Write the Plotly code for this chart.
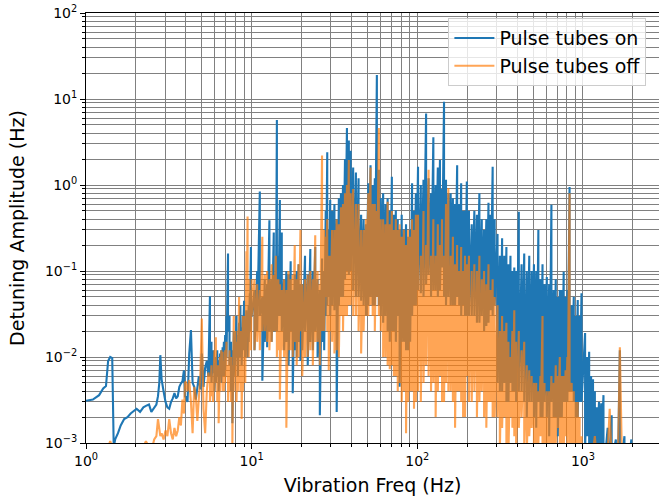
import plotly.graph_objects as go

# ---------------- data ----------------
# Each frequency bin holds two readings per series (the trace drawn there spans both):
#   onN / offN  and  onNb / offNb.  Segments 1 and 7 are mostly single-valued lines.

# Segment 1: 1 - 4 Hz
f1 = [1.0, 1.1, 1.2, 1.27, 1.32, 1.36, 1.40, 1.44, 1.47, 1.50, 1.56, 1.62, 1.70, 1.78,
      1.86, 1.95, 2.02, 2.12, 2.22, 2.30, 2.40, 2.48, 2.58, 2.66, 2.72, 2.77, 2.81, 2.86,
      2.94, 3.02, 3.10, 3.18, 3.26, 3.34, 3.42, 3.50, 3.58, 3.66, 3.74, 3.82, 3.90, 3.96]
on1 = [0.0031, 0.0032, 0.0036, 0.0043, 0.0046, 0.0090, 0.0100, 0.0097, 0.0009, 0.0011,
       0.0013, 0.0016, 0.0019, 0.0020, 0.0022, 0.0024, 0.0025, 0.0023, 0.0026, 0.0027,
       0.0028, 0.0023, 0.0026, 0.0028, 0.0035, 0.0050, 0.0105, 0.0055, 0.0040, 0.0030,
       0.0026, 0.0025, 0.0030, 0.0033, 0.0038, 0.0033, 0.0035, 0.0045, 0.0049, 0.0052,
       0.0070, 0.0034]
off1 = [0.0005, 0.0005, 0.0006, 0.0007, 0.0008, 0.0009, 0.00105, 0.0009, 0.0006, 0.0005,
        0.0005, 0.0006, 0.0006, 0.0007, 0.0007, 0.0008, 0.0007, 0.0008, 0.0009, 0.00105,
        0.0009, 0.0008, 0.0011, 0.0012, 0.0019, 0.0014, 0.0012, 0.0013, 0.0011, 0.0014,
        0.0012, 0.0019, 0.0013, 0.0011, 0.0015, 0.0012, 0.0014, 0.0020, 0.0016, 0.0032,
        0.0022, 0.0050]
on1b = list(on1)
off1b = list(off1)

# Segment 2: 4 - 10 Hz
f2 = [4.0, 4.1, 4.2, 4.3, 4.4, 4.5, 4.6, 4.7, 4.8, 4.9, 5.0, 5.12, 5.24, 5.36, 5.48, 5.6,
      5.72, 5.84, 5.96, 6.08, 6.2, 6.32, 6.44, 6.56, 6.68, 6.8, 6.92, 7.05, 7.2, 7.35, 7.5,
      7.65, 7.8, 7.95, 8.1, 8.25, 8.4, 8.55, 8.7, 8.85, 9.0, 9.15, 9.3, 9.45, 9.6, 9.75, 9.9]
on2 = [0.0035, 0.0030, 0.0110, 0.0206, 0.0050, 0.0045, 0.0032, 0.0048, 0.0060, 0.0042,
       0.0110, 0.0045, 0.0075, 0.0090, 0.0060, 0.051, 0.015, 0.0065, 0.0085,
       0.0100, 0.0060, 0.0090, 0.0065, 0.0120, 0.0130, 0.0060, 0.0180,
       0.0300, 0.160, 0.030, 0.0150, 0.0017, 0.0200, 0.0170,
       0.0300, 0.0180, 0.0250, 0.0400, 0.0220, 0.0300,
       0.0450, 0.0250, 0.0350, 0.0200, 0.0400, 0.0550, 0.190]
on2b = [0.0035, 0.0030, 0.0110, 0.0206, 0.0050, 0.0045, 0.0032, 0.0048, 0.0060, 0.0042,
        0.0110, 0.0045, 0.0075, 0.0090, 0.0060,
        0.006, 0.005, 0.012, 0.004, 0.005, 0.012, 0.004, 0.011, 0.005, 0.006,
        0.015, 0.007, 0.01, 0.02, 0.008, 0.004, 0.012, 0.006, 0.008, 0.01,
        0.006, 0.012, 0.01, 0.008, 0.012, 0.012, 0.01, 0.012, 0.01, 0.015,
        0.02, 0.03]
off2 = [0.0052, 0.0040, 0.0054, 0.0030, 0.0013, 0.0045, 0.0035, 0.0018, 0.0030, 0.0060,
        0.0280, 0.0025, 0.0013, 0.0040, 0.0066, 0.0050, 0.0080, 0.0060, 0.0120,
        0.0170, 0.0080, 0.0017, 0.0100, 0.0070, 0.0115, 0.0090, 0.0120,
        0.0060, 0.0080, 0.0040, 0.0100, 0.0010, 0.0300, 0.0060,
        0.0150, 0.0040, 0.0500, 0.0200, 0.0019, 0.0300,
        0.0150, 0.0250, 0.170, 0.430, 0.0800, 0.0250, 0.0600]
off2b = [0.0052, 0.0040, 0.0054, 0.0030, 0.0013, 0.0045, 0.0035, 0.0018, 0.0030, 0.0060,
         0.0280, 0.0025, 0.0013, 0.0040, 0.0066,
         0.003, 0.0035, 0.003, 0.004, 0.005, 0.003, 0.008, 0.004, 0.012, 0.004,
         0.004, 0.005, 0.015, 0.003, 0.012, 0.003, 0.008, 0.004, 0.02, 0.003,
         0.02, 0.005, 0.004, 0.02, 0.004, 0.03, 0.005, 0.01, 0.02, 0.01,
         0.06, 0.012]

# Segment 3: 10 - 30 Hz
f3 = [10.0, 10.4, 10.8, 11.2, 11.6, 12.0, 12.4, 12.8, 13.2, 13.6, 14.0, 14.2, 14.5, 14.8,
      15.2, 15.7, 16.2, 16.7, 17.2, 17.7, 18.2, 18.7, 19.2, 19.7, 20.2, 21.0, 21.8, 22.6,
      23.4, 24.2, 25.0, 25.8, 26.6, 27.4, 28.0, 28.6, 29.2, 29.8]
on3 = [0.19, 0.012, 0.10, 0.84, 0.0053, 0.08, 0.013, 0.39, 0.015, 0.28, 0.02, 5.7, 0.03,
       0.67, 0.28, 0.012, 0.10, 0.008, 0.13, 0.0038, 0.09, 0.010, 0.12, 0.009, 0.07, 0.15,
       0.008, 0.18, 0.012, 0.19, 0.010, 0.0021, 0.14, 0.012, 0.5, 2.4, 0.05, 0.67]
on3b = [0.03, 0.06, 0.02, 0.03, 0.05, 0.015, 0.07, 0.02, 0.08, 0.02, 0.09, 0.02, 0.15,
        0.03, 0.02, 0.08, 0.015, 0.09, 0.02, 0.06, 0.012, 0.1, 0.015, 0.07, 0.012, 0.02,
        0.09, 0.015, 0.1, 0.02, 0.08, 0.06, 0.015, 0.1, 0.03, 0.04, 0.3, 0.03]
off3 = [0.03, 0.08, 0.015, 0.06, 0.25, 0.02, 0.10, 0.012, 0.12, 0.02, 0.15, 0.01, 0.08,
        0.0032, 0.06, 0.010, 0.0015, 0.10, 0.012, 0.09, 0.20, 0.008, 0.12, 0.30, 0.006,
        0.08, 0.010, 0.10, 0.008, 0.26, 0.015, 0.008, 2.2, 0.3, 0.05, 0.4, 0.007, 0.15]
off3b = [0.08, 0.012, 0.07, 0.012, 0.02, 0.09, 0.015, 0.08, 0.015, 0.09, 0.02, 0.08,
         0.012, 0.07, 0.012, 0.08, 0.06, 0.012, 0.08, 0.01, 0.015, 0.08, 0.01, 0.02, 0.07,
         0.01, 0.09, 0.012, 0.08, 0.015, 0.1, 0.07, 0.02, 0.02, 0.25, 0.02, 0.15, 0.02]

# Segment 4: 30 - 100 Hz
f4 = [30.6, 31.6, 32.6, 33.6, 34.6, 35.6, 36.6, 37.6, 38.6, 39.6, 41.0, 42.6, 44.2, 45.8,
      47.4, 49.0, 50.6, 52.2, 53.8, 55.4, 57.0, 58.6, 60.2, 62.2, 64.2, 66.2, 68.2, 70.2,
      72.2, 74.2, 76.2, 78.2, 80.5, 83.0, 85.5, 88.0, 90.5, 93.0, 95.5, 98.0]
on4 = [0.04, 0.6, 0.0023, 0.7, 0.05, 1.0, 0.08, 4.6, 3.3, 0.1,
       1.6, 0.05, 1.2, 0.045, 0.4, 0.03, 1.05, 1.7, 0.04, 1.2,
       19.0, 1.5, 0.03, 0.8, 0.03, 0.7, 0.015, 1.25, 0.02, 0.51,
       0.03, 0.0045, 0.45, 0.015, 0.35, 0.012, 0.3, 1.05, 0.04, 0.8]
on4b = [0.5, 0.035, 0.4, 0.04, 0.8, 0.05, 2.0, 0.1, 0.09, 2.5,
        0.06, 1.4, 0.05, 0.45, 0.04, 0.35, 0.04, 0.05, 1.0, 0.04,
        0.05, 0.04, 0.7, 0.025, 0.6, 0.02, 0.5, 0.02, 0.45, 0.015,
        0.4, 0.3, 0.015, 0.3, 0.012, 0.25, 0.015, 0.03, 0.5, 0.04]
off4 = [0.3, 0.011, 0.4, 0.01, 0.55, 0.02, 0.8, 0.03, 1.95, 0.04,
        0.9, 0.03, 0.6, 0.011, 0.3, 0.03, 0.8, 1.6, 0.03, 0.6,
        0.05, 4.6, 0.02, 0.4, 0.01, 0.64, 0.0072, 0.5, 0.006, 0.4,
        0.004, 0.35, 0.003, 0.3, 0.0013, 0.3, 0.004, 0.4, 0.0025, 0.45]
off4b = [0.015, 0.3, 0.012, 0.35, 0.03, 0.6, 0.03, 1.0, 0.04, 0.8,
         0.03, 0.6, 0.02, 0.3, 0.02, 0.4, 0.03, 0.04, 0.6, 0.02,
         0.5, 0.03, 0.4, 0.01, 0.35, 0.008, 0.35, 0.008, 0.3, 0.006,
         0.3, 0.005, 0.25, 0.004, 0.2, 0.003, 0.25, 0.004, 0.3, 0.003]

# Segment 5: 100 - 300 Hz
f5 = [101, 105, 109, 113, 117, 121, 125, 129, 133, 137, 141, 145, 149, 154, 159, 164, 169,
      174, 179, 184, 189, 194, 199, 205, 213, 221, 229, 237, 245, 253, 261, 269, 277, 285, 293]
on5 = [1.63, 0.055, 1.15, 6.8, 0.09, 0.8, 3.6, 0.06, 1.6, 1.95, 0.11, 9.3, 1.15,
       0.05, 0.8, 0.04, 0.6, 1.7, 0.04, 1.05, 0.04, 0.5, 1.1,
       0.03, 0.35, 0.5, 0.025, 0.8, 0.03, 0.3, 0.023, 0.62, 0.035, 1.63, 0.04]
on5b = [0.06, 1.0, 0.05, 0.07, 1.2, 0.05, 0.06, 1.0, 0.05, 0.06, 0.9, 0.05, 0.04,
        0.8, 0.04, 0.7, 0.04, 0.05, 0.6, 0.03, 0.5, 0.03, 0.03,
        0.5, 0.03, 0.03, 0.45, 0.025, 0.4, 0.02, 0.4, 0.025, 0.45, 0.03, 0.4]
off5 = [0.45, 0.003, 0.5, 0.008, 1.5, 0.004, 0.4, 0.002, 0.35, 0.006, 0.4, 0.003, 0.6,
        0.92, 0.004, 0.25, 0.0015, 0.2, 0.004, 0.19, 0.002, 0.15, 0.006,
        0.15, 0.003, 0.12, 0.002, 0.15, 0.004, 0.1, 0.0015, 0.12, 0.003, 0.08, 0.002]
off5b = [0.004, 0.15, 0.005, 0.2, 0.006, 0.15, 0.005, 0.15, 0.004, 0.2, 0.003, 0.15, 0.005,
         0.004, 0.15, 0.003, 0.12, 0.004, 0.1, 0.003, 0.1, 0.002, 0.12,
         0.003, 0.1, 0.004, 0.1, 0.003, 0.08, 0.002, 0.07, 0.003, 0.06, 0.002, 0.05]

# Segment 6: 300 - 1000 Hz
f6 = [305, 315, 325, 335, 345, 355, 365, 375, 385, 395, 410, 426, 442, 458, 474, 490, 506,
      522, 538, 554, 570, 586, 605, 625, 645, 665, 685, 705, 725, 745, 765, 785, 805, 830,
      855, 880, 905, 930, 955, 980]
on6 = [0.27, 0.004, 0.24, 0.005, 0.19, 0.003, 0.15, 0.004, 0.11, 0.003,
       0.49, 0.004, 0.16, 0.002, 0.15, 0.003, 0.12, 0.0015, 0.3, 0.002, 0.12, 0.003,
       0.085, 0.0012, 0.59, 0.002, 0.08, 0.0012, 0.06, 0.002, 0.098, 0.003,
       0.06, 0.95, 0.004, 0.05, 0.002, 0.046, 0.003, 0.055]
on6b = [0.005, 0.15, 0.004, 0.15, 0.003, 0.12, 0.005, 0.1, 0.004, 0.1,
        0.004, 0.12, 0.003, 0.1, 0.003, 0.1, 0.002, 0.1, 0.003, 0.08, 0.002, 0.07,
        0.002, 0.07, 0.003, 0.06, 0.002, 0.05, 0.002, 0.06, 0.003, 0.05,
        0.003, 0.004, 0.04, 0.003, 0.03, 0.002, 0.03, 0.003]
off6 = [0.04, 0.0008, 0.03, 0.002, 0.025, 0.0008, 0.01, 0.0015, 0.035, 0.0008,
        0.02, 0.002, 0.015, 0.0008, 0.007, 0.0015, 0.005, 0.0008, 0.004, 0.0012, 0.03, 0.0008,
        0.004, 0.0008, 0.006, 0.0008, 0.008, 0.0015, 0.01, 0.0008, 0.006, 0.0012,
        0.01, 0.8, 0.0008, 0.004, 0.0008, 0.003, 0.0008, 0.0012]
off6b = [0.002, 0.02, 0.0015, 0.02, 0.001, 0.015, 0.002, 0.02, 0.0012, 0.015,
         0.0015, 0.012, 0.001, 0.008, 0.0012, 0.006, 0.0009, 0.005, 0.001, 0.006, 0.001, 0.005,
         0.0009, 0.004, 0.0008, 0.005, 0.001, 0.006, 0.0009, 0.006, 0.0008, 0.007,
         0.001, 0.001, 0.005, 0.0008, 0.003, 0.0008, 0.002, 0.0008]

# Segment 7: 1000 - 2900 Hz
f7 = [1030, 1060, 1090, 1120, 1150, 1180, 1210, 1250, 1290, 1330, 1370, 1410, 1450, 1490,
      1530, 1580, 1630, 1670, 1720, 1780, 1840, 1900, 1960, 2020, 2100, 2200, 2350, 2500,
      2700, 2900]
on7 = [0.019, 0.0012, 0.0115, 0.001, 0.0055, 0.0009, 0.0026, 0.0009, 0.0029, 0.0036,
       0.0008, 0.0015, 0.0008, 0.0021, 0.0008, 0.0011, 0.0007, 0.012, 0.0007, 0.0012,
       0.0007, 0.0008, 0.0011, 0.0007, 0.0006, 0.0005, 0.0005, 0.0005, 0.0005, 0.0005]
on7b = [0.0008, 0.01, 0.0009, 0.006, 0.0008, 0.004, 0.0008, 0.003, 0.0008, 0.0008,
        0.0008, 0.0008, 0.0008, 0.0008, 0.0008, 0.0008, 0.0007, 0.0008, 0.0007, 0.0007,
        0.0007, 0.0007, 0.0007, 0.0007, 0.0006, 0.0005, 0.0005, 0.0005, 0.0005, 0.0005]
off7 = [0.0008, 0.0006, 0.0005, 0.0006, 0.0008, 0.0012, 0.0006, 0.0005, 0.0005, 0.0005,
        0.0006, 0.0008, 0.0025, 0.0006, 0.0008, 0.0006, 0.0008, 0.013, 0.0006, 0.0005,
        0.0005, 0.0005, 0.0005, 0.0005, 0.0005, 0.0005, 0.0005, 0.0005, 0.0005, 0.0005]
off7b = list(off7)

x_tick_vals = [1, 10, 100, 1000]
x_tick_text = ["10<sup>0</sup>", "10<sup>1</sup>", "10<sup>2</sup>", "10<sup>3</sup>"]
y_tick_vals = [0.001, 0.01, 0.1, 1, 10, 100]
y_tick_text = ["10<sup>\u22123</sup>", "10<sup>\u22122</sup>", "10<sup>\u22121</sup>",
               "10<sup>0</sup>", "10<sup>1</sup>", "10<sup>2</sup>"]

# ---------------- assemble (each bin: its two readings, larger first) ----------------
segs = [(f1, on1, on1b, off1, off1b), (f2, on2, on2b, off2, off2b),
        (f3, on3, on3b, off3, off3b), (f4, on4, on4b, off4, off4b),
        (f5, on5, on5b, off5, off5b), (f6, on6, on6b, off6, off6b),
        (f7, on7, on7b, off7, off7b)]
x_on, y_on, x_off, y_off = [], [], [], []
for i, (f, a, ab, b, bb) in enumerate(segs):
    assert len(f) == len(a) == len(ab) == len(b) == len(bb), (i, len(f), len(a), len(ab), len(b), len(bb))
    for k in range(len(f)):
        x_on += [f[k], f[k]]
        y_on += [max(a[k], ab[k]), min(a[k], ab[k])]
        x_off += [f[k], f[k]]
        y_off += [max(b[k], bb[k]), min(b[k], bb[k])]

x_minor = [m * 10 ** k for k in range(0, 4) for m in range(2, 10)]
y_minor = [m * 10.0 ** k for k in range(-3, 2) for m in range(2, 10)]

FONT = "DejaVu Sans"
GRID = "#808080"

fig = go.Figure()
fig.add_trace(go.Scatter(x=x_on, y=y_on, mode="lines", name="Pulse tubes on",
                         line=dict(color="#1f77b4", width=2.1)))
fig.add_trace(go.Scatter(x=x_off, y=y_off, mode="lines", name="Pulse tubes off",
                         line=dict(color="#ff7f0e", width=2.1), opacity=0.7))

axis_common = dict(
    type="log", showline=True, linecolor="black", linewidth=1,
    ticks="outside", ticklen=5, tickwidth=1, tickcolor="black",
    showgrid=True, gridcolor=GRID, gridwidth=0.8,
    tickfont=dict(family=FONT, size=14, color="black"),
    zeroline=False, tickmode="array", automargin=False,
)

fig.update_xaxes(
    **axis_common, range=[0, 3.459], mirror=True,
    tickvals=x_tick_vals, ticktext=x_tick_text,
    minor=dict(tickvals=x_minor, ticks="outside", ticklen=3, tickcolor="black",
               showgrid=True, gridcolor=GRID, gridwidth=0.8),
    title=dict(text="Vibration Freq (Hz)", font=dict(family=FONT, size=19, color="black"),
               standoff=10),
)
fig.update_yaxes(
    **axis_common, range=[-3, 2],
    tickvals=y_tick_vals, ticktext=y_tick_text,
    minor=dict(tickvals=y_minor, ticks="outside", ticklen=3, tickcolor="black",
               showgrid=True, gridcolor=GRID, gridwidth=0.8),
    title=dict(text="Detuning Amplitude (Hz)", font=dict(family=FONT, size=19, color="black"),
               standoff=15),
)

fig.update_layout(
    width=659, height=499,
    margin=dict(l=86, r=0, t=13, b=56),
    paper_bgcolor="white", plot_bgcolor="white",
    font=dict(family=FONT, color="black"),
    showlegend=True,
    legend=dict(x=0.978, y=0.988, xanchor="right", yanchor="top",
                bgcolor="rgba(255,255,255,0.8)", bordercolor="#cccccc", borderwidth=1,
                font=dict(family=FONT, size=19, color="black"),
                tracegroupgap=0, itemwidth=40),
)

fig.write_html("out.html", post_script="document.body.style.margin='0';",
               config={"responsive": False, "displayModeBar": False})
